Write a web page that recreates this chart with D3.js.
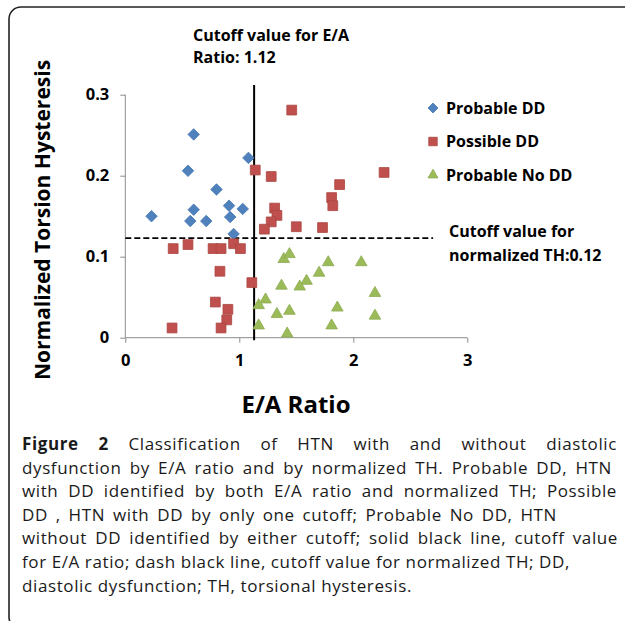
<!DOCTYPE html>
<html>
<head>
<meta charset="utf-8">
<script src="https://cdn.jsdelivr.net/npm/d3@7"></script>
<style>
  body { margin: 0; background: #fff; }
  text { font-family: "Open Sans", sans-serif; }
</style>
</head>
<body>
<div id="wrapper"></div>
<script>
// data: [E/A ratio, normalized TH]
const probableDD = [
  [0.23, 0.150], [0.60, 0.251], [0.55, 0.206], [1.08, 0.222], [0.80, 0.183],
  [0.60, 0.158], [0.57, 0.144], [0.71, 0.144], [0.91, 0.163], [0.92, 0.149],
  [1.03, 0.159], [0.95, 0.128]
]
const possibleDD = [
  [0.42, 0.110], [0.55, 0.115], [0.77, 0.110], [0.84, 0.110], [0.95, 0.116],
  [1.01, 0.110], [0.83, 0.082], [1.11, 0.068], [0.79, 0.044], [0.90, 0.035],
  [0.89, 0.022], [0.84, 0.012], [0.41, 0.012], [1.46, 0.281], [1.14, 0.207],
  [1.28, 0.199], [1.31, 0.160], [1.33, 0.151], [1.28, 0.143], [1.22, 0.134],
  [1.50, 0.137], [2.27, 0.204], [1.88, 0.189], [1.81, 0.173], [1.82, 0.163],
  [1.73, 0.136]
]
const probableNoDD = [
  [1.39, 0.097], [1.44, 0.103], [1.78, 0.093], [2.07, 0.093], [1.70, 0.080],
  [1.59, 0.070], [1.53, 0.063], [1.37, 0.064], [2.19, 0.055], [1.23, 0.047],
  [1.17, 0.040], [1.44, 0.033], [1.33, 0.029], [1.86, 0.037], [2.19, 0.027],
  [1.17, 0.015], [1.81, 0.015], [1.42, 0.005]
]
const xTicks = [0, 1, 2, 3]
const xTickLabels = ["0", "1", "2", "3"]
const yTicks = [0, 0.1, 0.2, 0.3]
const yTickLabels = ["0", "0.1", "0.2", "0.3"]
const eaCutoff = 1.13
const thCutoff = 0.123
const seriesNames = ["Probable DD", "Possible DD", "Probable No DD"]
const captionLines = [
  "Classification of HTN with and without diastolic",
  "dysfunction by E/A ratio and by normalized TH. Probable DD, HTN",
  "with DD identified by both E/A ratio and normalized TH; Possible",
  "DD , HTN with DD by only one cutoff; Probable No DD, HTN",
  "without DD identified by either cutoff; solid black line, cutoff value",
  "for E/A ratio; dash black line, cutoff value for normalized TH; DD,",
  "diastolic dysfunction; TH, torsional hysteresis."
]

const width = 625
const height = 621

const svg = d3.select("#wrapper").append("svg")
  .attr("width", width)
  .attr("height", height)

// rounded frame (right and bottom edges run off the picture)
svg.append("rect")
  .attr("x", 9).attr("y", 7)
  .attr("width", 700).attr("height", 622)
  .attr("rx", 12)
  .attr("fill", "none")
  .attr("stroke", "#222")
  .attr("stroke-width", 1.6)

const xScale = d3.scaleLinear().domain([0, 3]).range([125.3, 467.3])
const yScale = d3.scaleLinear().domain([0, 0.3]).range([337.7, 94.7])

// axes
const yAxis = svg.append("g")
  .attr("transform", `translate(${xScale(0)},0)`)
  .call(d3.axisLeft(yScale).tickValues(yTicks).tickSize(5).tickPadding(11)
    .tickFormat((d, i) => yTickLabels[i]))
const xAxis = svg.append("g")
  .attr("transform", `translate(0,${yScale(0)})`)
  .call(d3.axisBottom(xScale).tickValues(xTicks).tickSize(5).tickPadding(12)
    .tickFormat((d, i) => xTickLabels[i]))
;[xAxis, yAxis].forEach(a => {
  a.select(".domain").remove()
  a.selectAll(".tick line").attr("stroke", "#8c8c8c")
  a.selectAll(".tick text")
    .attr("fill", "#000")
    .style("font-family", "'Open Sans', sans-serif")
    .style("font-weight", "bold")
    .style("font-size", "16.5px")
})
svg.append("line")
  .attr("x1", xScale(0)).attr("x2", xScale(0))
  .attr("y1", yScale(0.3)).attr("y2", yScale(0))
  .attr("stroke", "#8c8c8c")
svg.append("line")
  .attr("x1", xScale(0)).attr("x2", xScale(3))
  .attr("y1", yScale(0)).attr("y2", yScale(0))
  .attr("stroke", "#8c8c8c")

// cutoff lines
svg.append("line")
  .attr("x1", xScale(eaCutoff)).attr("x2", xScale(eaCutoff))
  .attr("y1", yScale(0.312)).attr("y2", yScale(-0.003))
  .attr("stroke", "#000").attr("stroke-width", 2)
svg.append("line")
  .attr("x1", xScale(0)).attr("x2", xScale(2.7))
  .attr("y1", yScale(thCutoff)).attr("y2", yScale(thCutoff))
  .attr("stroke", "#000").attr("stroke-width", 1.8)
  .attr("stroke-dasharray", "6,3")

// markers
const styles = [
  { fill: "#4f81bd", stroke: "#4a7ab3", symbol: d3.symbolSquare, size: 66, rotate: 45 },
  { fill: "#c0504d", stroke: "#a94643", symbol: d3.symbolSquare, size: 96, rotate: 0 },
  { fill: "#9bbb59", stroke: "#8eab52", symbol: d3.symbolTriangle, size: 58, rotate: 0 },
]
const seriesData = [probableDD, possibleDD, probableNoDD]

seriesData.forEach((data, i) => {
  const s = styles[i]
  svg.append("g").selectAll("path")
    .data(data)
    .join("path")
    .attr("d", d3.symbol(s.symbol, s.size))
    .attr("transform", d => `translate(${xScale(d[0])},${yScale(d[1])}) rotate(${s.rotate})`)
    .attr("fill", s.fill)
    .attr("stroke", s.stroke)
    .attr("stroke-width", 0.8)
})

// legend
const legend = svg.append("g").attr("transform", "translate(433,108)")
seriesNames.forEach((name, i) => {
  const s = styles[i]
  const g = legend.append("g").attr("transform", `translate(0,${i * 33.5})`)
  g.append("path")
    .attr("d", d3.symbol(s.symbol, s.size * 0.75))
    .attr("transform", `rotate(${s.rotate})`)
    .attr("fill", s.fill)
    .attr("stroke", s.stroke)
    .attr("stroke-width", 0.8)
  g.append("text")
    .attr("x", 13).attr("y", 5.5)
    .style("font-weight", "bold")
    .style("font-size", "16px")
    .text(name)
})

// annotations
const ann1 = svg.append("text")
  .style("font-weight", "bold").style("font-size", "16px")
ann1.append("tspan").attr("x", 193).attr("y", 41).text("Cutoff value for E/A")
ann1.append("tspan").attr("x", 193).attr("y", 63).text("Ratio: 1.12")
const ann2 = svg.append("text")
  .style("font-weight", "bold").style("font-size", "16px")
ann2.append("tspan").attr("x", 449).attr("y", 237).text("Cutoff value for")
ann2.append("tspan").attr("x", 449).attr("y", 261).text("normalized TH:0.12")

// axis titles
svg.append("text")
  .attr("transform", "translate(50,220) rotate(-90)")
  .attr("text-anchor", "middle")
  .style("font-weight", "bold").style("font-size", "21px")
  .text("Normalized Torsion Hysteresis")
svg.append("text")
  .attr("x", 296).attr("y", 413)
  .attr("text-anchor", "middle")
  .style("font-weight", "bold").style("font-size", "24px")
  .text("E/A Ratio")

// caption: letter spacing fitted on the last (unjustified) line,
// then word spacing stretches each line to the ends seen in the figure
const lineEnds = [617, 612, 617, 557, 618, 570, 412]
const captionG = svg.append("g")
  .style("font-size", "17px")
  .attr("fill", "#1a1a1a")
const probe = captionG.append("text").text(captionLines[6])
const letterSp = (390 - probe.node().getComputedTextLength()) / captionLines[6].length
probe.remove()
captionLines.forEach((line, i) => {
  const t = captionG.append("text")
    .attr("x", 22).attr("y", 450 + i * 23.6)
    .attr("letter-spacing", letterSp)
  if (i === 0) {
    t.append("tspan").style("font-weight", "bold").text("Figure 2")
    t.append("tspan").text(" " + line)
  } else {
    t.text(line)
  }
  const natural = t.node().getComputedTextLength()
  const spaces = (i === 0 ? "Figure 2 " + line : line).split(" ").length - 1
  t.attr("word-spacing", (lineEnds[i] - 22 - natural) / spaces)
})
</script>
</body>
</html>
